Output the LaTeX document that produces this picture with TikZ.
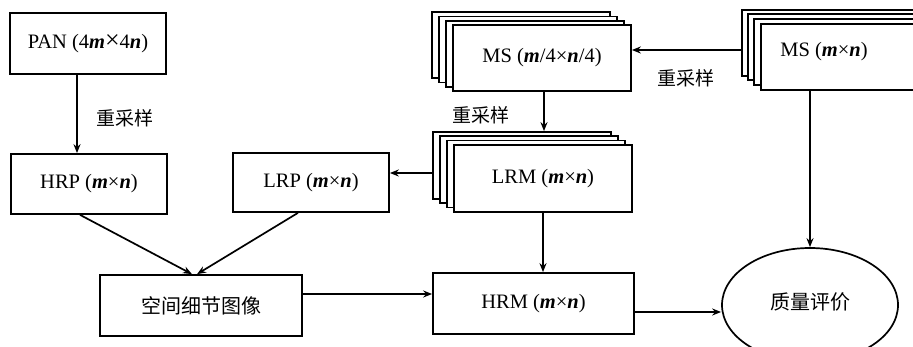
\documentclass[tikz,border=0pt]{standalone}
\usepackage{fontspec}
\setmainfont{Liberation Serif}
\newfontfamily\cjk{Noto Sans CJK SC}
\usetikzlibrary{arrows.meta,shapes.geometric}
\newcommand{\mi}[1]{\textbf{\textit{#1}}}
\begin{document}
\begin{tikzpicture}[x=1pt,y=-1pt,
  every node/.style={font=\fontsize{20.5}{24}\selectfont},
  box/.style={draw, line width=1.7pt, fill=white, inner sep=0pt, minimum width=#1},
  box/.default=156pt,
  lyr/.style={draw, line width=1.7pt, fill=white, inner sep=0pt, minimum width=178pt, minimum height=66pt},
  arr/.style={line width=1.7pt, -{Stealth[length=9pt,width=7pt]}},
  lab/.style={font=\cjk\fontsize{19}{22}\selectfont, inner sep=0pt},
  cj/.style={font=\cjk\fontsize{20}{24}\selectfont}]
\useasboundingbox (0,0) rectangle (913,347);
\clip (0,0) rectangle (913,347);
% plain boxes
\node[box, minimum height=61pt] (pan) at (88,43.5) {PAN (4\mi{m}{\fontsize{26}{26}\selectfont ×}4\mi{n})};
\node[box, minimum height=60pt] (hrp) at (89,184) {HRP (\mi{m}×\mi{n})};
\node[box, minimum height=59pt] (lrp) at (311,182.5) {LRP (\mi{m}×\mi{n})};
\node[box=202pt, minimum height=61pt, cj] (kj) at (201,305.5) {空间细节图像};
\node[box=201pt, minimum height=61pt] (hrm) at (533.5,303.5) {HRM (\mi{m}×\mi{n})};
% MS (m/4 x n/4) stack
\node[lyr] (msa3) at (521,45) {};
\node[lyr] (msa2) at (528,49.5) {};
\node[lyr] (msa1) at (535,54) {};
\node[lyr] (msa) at (542,58) {MS (\mi{m}/4×\mi{n}/4)};
% LRM stack
\node[lyr, minimum height=67pt] (lrm3) at (522,165.5) {};
\node[lyr, minimum height=67pt] (lrm2) at (529,169.5) {};
\node[lyr, minimum height=67pt] (lrm1) at (536,174) {};
\node[lyr, minimum height=67pt] (lrm) at (543,178.5) {LRM (\mi{m}×\mi{n})};
% MS (m x n) stack
\node[lyr] (msb3) at (831,43) {};
\node[lyr] (msb2) at (837,47) {};
\node[lyr] (msb1) at (843,52) {};
\node[lyr] (msb) at (850,57) {};
\node[inner sep=0pt] (msbt) at (824,52) {MS (\mi{m}×\mi{n})};
% ellipse
\node[draw, ellipse, line width=1.7pt, minimum width=176pt, minimum height=114pt, inner sep=0pt] (q) at (810,305) {};
\node[cj, inner sep=0pt] (qt) at (810,302) {质量评价};
% connectors
\draw[arr] ([xshift=-11pt]pan.south) -- ([xshift=-11pt]pan.south |- hrp.north);
\node[lab] (l1) at (125,118) {重采样};
\draw[arr] ([xshift=-9pt]hrp.south) -- ([xshift=-9pt]kj.north);
\draw[arr] ([xshift=-13pt]lrp.south) -- ([xshift=-4pt]kj.north);
\draw[arr] ([yshift=9.5pt]lrp.east -| lrm3.west) -- ([yshift=9.5pt]lrp.east);
\draw[arr] ([yshift=11.5pt]kj.east) -- ([yshift=11.5pt]kj.east -| hrm.west);
\draw[arr] ([xshift=2pt]msa.south) -- ([xshift=2pt]msa.south |- lrm3.north);
\node[lab] (l2) at (481,115) {重采样};
\draw[arr] (lrm.south) -- (lrm.south |- hrm.north);
\draw[arr] ([yshift=8pt]msb3.west |- msa.east) -- ([yshift=8pt]msa.east);
\node[lab] (l3) at (686,78) {重采样};
\draw[arr] (msb.south -| q.north) -- (q.north);
\draw[arr] ([yshift=-8.5pt]hrm.east) -- ([yshift=-8.5pt]hrm.east -| q.west);
\end{tikzpicture}
\end{document}
